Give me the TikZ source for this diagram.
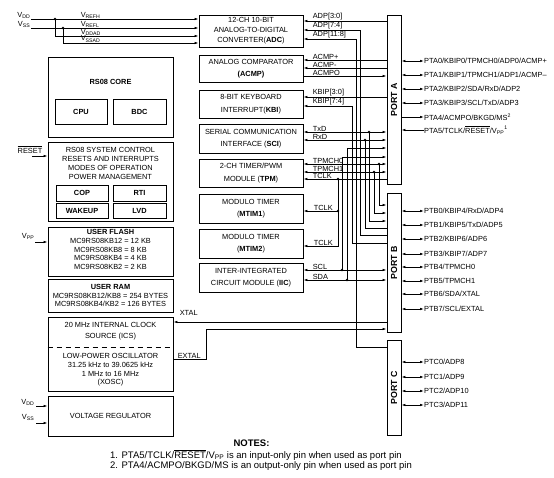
\documentclass[tikz,border=0pt]{standalone}
\usepackage{fontspec}
\setmainfont{Liberation Sans}
\usetikzlibrary{arrows.meta,positioning}
\newcommand\blkfont{\fontsize{7.4}{8.6}\selectfont}
\newcommand\rst{$\overline{\mbox{RESET}}$}
\tikzset{
  blk/.style={draw, line width=0.9pt, inner sep=0pt, align=center, font=\fontsize{7.4}{12.5}\selectfont},
  subblk/.style={draw, line width=0.9pt, inner sep=0pt, font=\blkfont\bfseries},
  portblk/.style={draw, line width=0.9pt, minimum width=14pt, inner sep=0pt},
  sig/.style={line width=0.75pt},
  sigto/.style={sig, -{Latex[length=4pt,width=2.6pt]}},
  sigboth/.style={sig, {Latex[length=4pt,width=2.6pt]}-{Latex[length=4pt,width=2.6pt]}},
  lbl/.style={anchor=south west, inner sep=0.6pt},
  pinlbl/.style={anchor=west, inner sep=0pt}
}
\begin{document}
\begin{tikzpicture}[x=1pt, y=-1pt, every node/.style={font=\blkfont}]
\useasboundingbox (0,0) rectangle (554,478);

% Core, system and memory blocks
\node[blk, minimum width=125pt, minimum height=80pt] (core) at (110.5,97) {};
\node[font=\blkfont\bfseries] (coretxt) at (110.5,82) {RS08 CORE};
\node[subblk, minimum width=52pt, minimum height=25pt] (cpu) at (81,111.5) {CPU};
\node[subblk, minimum width=53pt, minimum height=25pt] (bdc) at (139.5,111.5) {BDC};

\node[blk, minimum width=125pt, minimum height=79pt] (sysctl) at (110.5,181.5) {};
\node[align=center, font=\fontsize{7.4}{9}\selectfont] (sysctltxt) at (110.5,163.5) {RS08 SYSTEM CONTROL\\RESETS AND INTERRUPTS\\MODES OF OPERATION\\POWER MANAGEMENT};
\node[subblk, minimum width=52pt, minimum height=16pt] (cop) at (82,193) {COP};
\node[subblk, minimum width=52pt, minimum height=15pt] (wakeup) at (82,210.5) {WAKEUP};
\node[subblk, minimum width=53pt, minimum height=16pt] (rti) at (139.5,193) {RTI};
\node[subblk, minimum width=53pt, minimum height=15pt] (lvd) at (139.5,210.5) {LVD};

\node[blk, minimum width=125pt, minimum height=49pt] (flash) at (110.5,251.5) {};
\node[align=center] (flashtxt) at (110.5,249.5) {\textbf{USER FLASH}\\MC9RS08KB12 = 12 KB\\MC9RS08KB8 = 8 KB\\MC9RS08KB4 = 4 KB\\MC9RS08KB2 = 2 KB};
\node[blk, minimum width=125pt, minimum height=33pt] (ram) at (110.5,295.5) {};
\node[align=center] (ramtxt) at (110.5,295.5) {\textbf{USER RAM}\\MC9RS08KB12/KB8 = 254 BYTES\\MC9RS08KB4/KB2 = 126 BYTES};

\node[blk, minimum width=125pt, minimum height=74pt] (ics) at (110.5,354) {};
\node[align=center, font=\fontsize{7.4}{11}\selectfont] (icstxt) at (110.5,331.5) {20 MHz INTERNAL CLOCK\\SOURCE (ICS)};
\draw[line width=0.75pt, dash pattern=on 5pt off 4pt] (ics.west |- 0,347) -- (ics.east |- 0,347);
\node[align=center] (xosctxt) at (110.5,370) {LOW-POWER OSCILLATOR\\31.25 kHz to 39.0625 kHz\\1 MHz to 16 MHz\\(XOSC)};

\node[blk, minimum width=125pt, minimum height=40pt] (vreg) at (110.5,416) {VOLTAGE REGULATOR};

% Peripheral blocks
\node[blk, minimum width=104pt, minimum height=32pt, font=\fontsize{7.4}{10}\selectfont] (adc) at (251,31) {12-CH 10-BIT\\ANALOG-TO-DIGITAL\\CONVERTER(\textbf{ADC})};
\node[blk, minimum width=104pt, minimum height=27pt] (acmp) at (251,68.5) {ANALOG COMPARATOR\\\textbf{(ACMP)}};
\node[blk, minimum width=104pt, minimum height=28pt] (kbi) at (251,104) {8-BIT KEYBOARD\\INTERRUPT(\textbf{KBI})};
\node[blk, minimum width=104pt, minimum height=29pt] (sci) at (251,138.5) {SERIAL COMMUNICATION\\INTERFACE (\textbf{SCI})};
\node[blk, minimum width=104pt, minimum height=28pt] (tpm) at (251,173) {2-CH TIMER/PWM\\MODULE (\textbf{TPM})};
\node[blk, minimum width=104pt, minimum height=29pt] (mtimA) at (251,208.5) {MODULO TIMER\\(\textbf{MTIM1})};
\node[blk, minimum width=104pt, minimum height=29pt] (mtimB) at (251,243.5) {MODULO TIMER\\(\textbf{MTIM2})};
\node[blk, minimum width=104pt, minimum height=29pt] (iic) at (251,277.5) {INTER-INTEGRATED\\CIRCUIT MODULE (\textbf{IIC})};

% Ports
\node[portblk, minimum height=169pt] (portA) at (394,99.5) {};
\node[portblk, minimum height=139pt] (portB) at (394,262.5) {};
\node[portblk, minimum height=95pt] (portC) at (394,387.5) {};
\node[rotate=90, font=\fontsize{8.8}{10}\selectfont\bfseries] (portAtxt) at (portA) {PORT A};
\node[rotate=90, font=\fontsize{8.8}{10}\selectfont\bfseries] (portBtxt) at (portB) {PORT B};
\node[rotate=90, font=\fontsize{8.8}{10}\selectfont\bfseries] (portCtxt) at (portC) {PORT C};

% ADC supplies
\coordinate (vddA) at (31,19);
\coordinate (vssA) at (31,28);
\coordinate (jdd) at (55,19);
\coordinate (jss) at (63,28);
\node[anchor=south east, inner sep=0.5pt] (vddlbl) at (vddA) {V\textsubscript{DD}};
\node[anchor=south east, inner sep=0.5pt] (vsslbl) at (vssA) {V\textsubscript{SS}};
\draw[sigto] (vddA) -- (adc.west |- vddA);
\draw[sigto] (vssA) -- (adc.west |- vssA);
\draw[sigto] (jdd) |- (adc.west |- 0,36);
\draw[sigto] (jss) |- (adc.west |- 0,43);
\node[lbl] (vrefh) at (80,19) {V\textsubscript{REFH}};
\node[lbl] (vrefl) at (80,28) {V\textsubscript{REFL}};
\node[lbl] (vddad) at (80,36) {V\textsubscript{DDAD}};
\node[lbl] (vssad) at (80,43) {V\textsubscript{SSAD}};

% ADC channels
\draw[sigto] (portA.west |- 0,21) -- (adc.east |- 0,21);
\draw[sigto] (portB.west |- 0,235) -| (360,30) -- (adc.east |- 0,30);
\draw[sigto] (portC.west |- 0,347) -| (356,39) -- (adc.east |- 0,39);

% Comparator
\draw[sigto] (portA.west |- 0,60) -- (acmp.east |- 0,60);
\draw[sigto] (portA.west |- 0,68) -- (acmp.east |- 0,68);
\draw[sigto] (acmp.east |- 0,76) -- (portA.west |- 0,76);

% Keyboard interrupts
\draw[sigto] (portA.west |- 0,97) -- (kbi.east |- 0,97);
\draw[sigto] (portB.west |- 0,243) -| (352,106) -- (kbi.east |- 0,106);

% SCI
\coordinate (jtx) at (369,132);
\coordinate (jrx) at (365,140);
\draw[sigboth] (portA.west |- jtx) -- (sci.east |- jtx);
\draw[sigboth] (portA.west |- jrx) -- (sci.east |- jrx);
\draw[sigto] (jtx) |- (portB.west |- 0,221);
\draw[sig] (jrx) |- (portB.west |- 0,228);

% TPM and MTIM clocks
\coordinate (jch0) at (379,164);
\coordinate (jch1) at (374,172);
\coordinate (jclk) at (338,179);
\coordinate (jclkA) at (338,211);
\draw[sigboth] (portA.west |- jch0) -- (tpm.east |- jch0);
\draw[sigboth] (portA.west |- jch1) -- (tpm.east |- jch1);
\draw[sigto] (portA.west |- jclk) -- (tpm.east |- jclk);
\draw[sigto] (jch0) |- (portB.west |- 0,205);
\draw[sigto] (jch1) |- (portB.west |- 0,213);
\draw[sigto] (jclk) |- (mtimB.east |- 0,246);
\draw[sigto] (jclkA) -- (mtimA.east |- jclkA);

% IIC
\coordinate (jscl) at (342,270);
\coordinate (jsda) at (347,280);
\draw[sigboth] (portB.west |- jscl) -- (iic.east |- jscl);
\draw[sigboth] (portB.west |- jsda) -- (iic.east |- jsda);
\draw[sigto] (jscl) |- (portA.west |- 0,157);
\draw[sigto] (jsda) |- (portA.west |- 0,148);

% Oscillator pins
\draw[sigto] (portB.west |- 0,322) -- (ics.east |- 0,322);
\draw[sigto] (ics.east |- 0,359) -| (206,329) -- (portB.west |- 0,329);
\node[lbl] (xtallbl) at (179,316) {XTAL};
\node[lbl] (extallbl) at (177,359) {EXTAL};

% Junctions
\foreach \point in {jdd, jss, jtx, jrx, jch0, jch1, jclk, jclkA, jscl, jsda}
  \fill[black] (\point) circle (1.3pt);

% Signal names
\node[lbl] (adp0) at (312,21) {ADP[3:0]};
\node[lbl] (adp4) at (312,30) {ADP[7:4]};
\node[lbl] (adp8) at (312,39) {ADP[11:8]};
\node[lbl] (acmpp) at (312,60) {ACMP+};
\node[lbl] (acmpm) at (312,68) {ACMP-};
\node[lbl] (acmpo) at (312,76) {ACMPO};
\node[lbl] (kbip0) at (312,97) {KBIP[3:0]};
\node[lbl] (kbip4) at (312,106) {KBIP[7:4]};
\node[lbl] (txd) at (312,132) {TxD};
\node[lbl] (rxd) at (312,140) {RxD};
\node[lbl] (tpmch0) at (312,164) {TPMCH0};
\node[lbl] (tpmch1) at (312,172) {TPMCH1};
\node[lbl] (tclk) at (312,179) {TCLK};
\node[lbl] (tclkA) at (313,211) {TCLK};
\node[lbl] (tclkB) at (313,246) {TCLK};
\node[lbl] (scl) at (312,270) {SCL};
\node[lbl] (sda) at (312,280) {SDA};

% Port A pins
\foreach \y/\txt [count=\i from 0] in {61/{PTA0/KBIP0/TPMCH0/ADP0/ACMP+}, 75/{PTA1/KBIP1/TPMCH1/ADP1/ACMP--}, 89/{PTA2/KBIP2/SDA/RxD/ADP2}, 103/{PTA3/KBIP3/SCL/TxD/ADP3}}
{
  \node[pinlbl] (pta\i) at (424,\y) {\txt};
  \draw[sigboth] (portA.east |- pta\i.west) -- (pta\i.west);
}
\node[pinlbl] (pta4) at (424,117) {PTA4/ACMPO/BKGD/MS\textsuperscript{2}};
\draw[sigto] (portA.east |- pta4.west) -- (pta4.west);
\node[pinlbl] (pta5) at (424,130) {PTA5/TCLK/\rst/V\textsubscript{PP}\textsuperscript{1}};
\draw[sigto] (pta5.west) -- (portA.east |- pta5.west);

% Port B pins
\foreach \y/\txt [count=\i from 0] in {211/{PTB0/KBIP4/RxD/ADP4}, 225/{PTB1/KBIP5/TxD/ADP5}, 239/{PTB2/KBIP6/ADP6}, 254/{PTB3/KBIP7/ADP7}, 267/{PTB4/TPMCH0}, 281/{PTB5/TPMCH1}, 294/{PTB6/SDA/XTAL}, 309/{PTB7/SCL/EXTAL}}
{
  \node[pinlbl] (ptb\i) at (424,\y) {\txt};
  \draw[sigboth] (portB.east |- ptb\i.west) -- (ptb\i.west);
}

% Port C pins
\foreach \y/\txt [count=\i from 0] in {362/{PTC0/ADP8}, 377/{PTC1/ADP9}, 391/{PTC2/ADP10}, 405/{PTC3/ADP11}}
{
  \node[pinlbl] (ptc\i) at (424,\y) {\txt};
  \draw[sigboth] (portC.east |- ptc\i.west) -- (ptc\i.west);
}

% External supply and control inputs
\coordinate (rstin) at (32,156);
\coordinate (vppin) at (35,242);
\coordinate (vddin) at (36,406);
\coordinate (vssin) at (36,423);
\node[anchor=south west, inner sep=0.5pt] (rstlbl) at (17,154) {\rst};
\node[anchor=south east, inner sep=0.5pt] (vpplbl) at (35,240) {V\textsubscript{PP}};
\node[anchor=south east, inner sep=0.5pt] (vddlblB) at (35,406) {V\textsubscript{DD}};
\node[anchor=south east, inner sep=0.5pt] (vsslblB) at (35,421) {V\textsubscript{SS}};
\draw[sigto] (rstin) -- (sysctl.west |- rstin);
\draw[sigto] (vppin) -- (flash.west |- vppin);
\draw[sigto] (vddin) -- (vreg.west |- vddin);
\draw[sigto] (vssin) -- (vreg.west |- vssin);

% Notes
\node[font=\fontsize{9.5}{11}\selectfont\bfseries] (notes) at (251.5,443) {NOTES:};
\node[anchor=west, inner sep=0pt, font=\fontsize{9.5}{11}\selectfont] (note1) at (110,455) {1. PTA5/TCLK/\rst/V\textsubscript{PP} is an input-only pin when used as port pin};
\node[anchor=west, inner sep=0pt, font=\fontsize{9.5}{11}\selectfont] (note2) at (110,466) {2. PTA4/ACMPO/BKGD/MS is an output-only pin when used as port pin};
\end{tikzpicture}
\end{document}
